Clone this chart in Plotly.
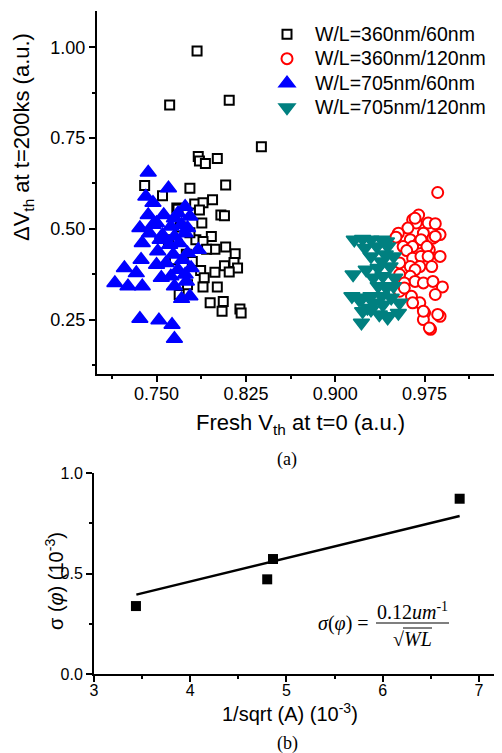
import plotly.graph_objects as go

# ---------------- data: panel (a) ----------------
sq_x = [0.784, 0.761, 0.811, 0.838, 0.785, 0.786, 0.791, 0.801, 0.740, 0.778,
        0.808, 0.755, 0.767, 0.782, 0.789, 0.797, 0.786, 0.804, 0.807, 0.788,
        0.768, 0.796, 0.783, 0.789, 0.799, 0.808, 0.792, 0.816, 0.815, 0.807,
        0.818, 0.811, 0.799, 0.787, 0.790, 0.776, 0.789, 0.801, 0.795, 0.806,
        0.805, 0.820, 0.821, 0.769, 0.778, 0.770, 0.775, 0.765, 0.780, 0.760]
sq_y = [0.990, 0.841, 0.854, 0.726, 0.699, 0.687, 0.680, 0.694, 0.619, 0.612,
        0.621, 0.591, 0.557, 0.568, 0.572, 0.580, 0.552, 0.538, 0.536, 0.516,
        0.554, 0.479, 0.470, 0.465, 0.444, 0.450, 0.444, 0.431, 0.407, 0.398,
        0.392, 0.381, 0.380, 0.385, 0.365, 0.346, 0.340, 0.340, 0.296, 0.300,
        0.273, 0.279, 0.268, 0.319, 0.489, 0.505, 0.430, 0.415, 0.410, 0.470]

cir_x = [0.986, 0.970, 0.965, 0.968, 0.978, 0.984, 0.967, 0.961, 0.953, 0.951,
         0.974, 0.988, 0.982, 0.984, 0.963, 0.970, 0.972, 0.957, 0.965, 0.979,
         0.977, 0.960, 0.988, 0.965, 0.972, 0.978, 0.954, 0.963, 0.971, 0.981,
         0.967, 0.954, 0.963, 0.967, 0.974, 0.982, 0.990, 0.958, 0.954, 0.958,
         0.964, 0.971, 0.984, 0.965, 0.975, 0.974, 0.988, 0.980, 0.974, 0.986,
         0.979]
cir_y = [0.600, 0.538, 0.525, 0.516, 0.516, 0.514, 0.529, 0.502, 0.488, 0.477,
         0.488, 0.484, 0.474, 0.479, 0.470, 0.461, 0.470, 0.451, 0.451, 0.442,
         0.451, 0.440, 0.424, 0.419, 0.424, 0.424, 0.406, 0.396, 0.396, 0.396,
         0.387, 0.374, 0.369, 0.355, 0.351, 0.355, 0.340, 0.351, 0.328, 0.337,
         0.314, 0.296, 0.319, 0.296, 0.268, 0.250, 0.259, 0.223, 0.273, 0.264,
         0.227]

tri_x = [0.743, 0.760, 0.741, 0.747, 0.774, 0.743, 0.756, 0.765, 0.768, 0.778,
         0.736, 0.747, 0.750, 0.762, 0.771, 0.776, 0.744, 0.755, 0.765, 0.774,
         0.738, 0.753, 0.761, 0.769, 0.785, 0.776, 0.751, 0.764, 0.737, 0.750,
         0.758, 0.768, 0.772, 0.779, 0.723, 0.733, 0.715, 0.726, 0.738, 0.754,
         0.765, 0.775, 0.762, 0.774, 0.771, 0.778, 0.736, 0.752, 0.763, 0.765]
tri_y = [0.655, 0.612, 0.589, 0.572, 0.561, 0.538, 0.538, 0.529, 0.543, 0.534,
         0.502, 0.511, 0.516, 0.506, 0.511, 0.502, 0.488, 0.483, 0.479, 0.488,
         0.461, 0.470, 0.456, 0.461, 0.442, 0.433, 0.438, 0.429, 0.415, 0.401,
         0.406, 0.387, 0.415, 0.392, 0.392, 0.378, 0.351, 0.342, 0.342, 0.365,
         0.342, 0.355, 0.369, 0.374, 0.307, 0.314, 0.252, 0.248, 0.236, 0.197]

inv_x = [0.916, 0.923, 0.930, 0.939, 0.943, 0.925, 0.935, 0.944, 0.930, 0.942,
         0.949, 0.939, 0.915, 0.926, 0.936, 0.946, 0.932, 0.940, 0.950, 0.936,
         0.943, 0.949, 0.914, 0.923, 0.920, 0.930, 0.939, 0.947, 0.954, 0.932,
         0.940, 0.927, 0.923, 0.930, 0.937, 0.944, 0.953, 0.944, 0.922]
inv_y = [0.470, 0.472, 0.470, 0.470, 0.465, 0.447, 0.451, 0.451, 0.424, 0.429,
         0.424, 0.410, 0.374, 0.387, 0.392, 0.396, 0.365, 0.369, 0.365, 0.342,
         0.337, 0.342, 0.314, 0.310, 0.305, 0.314, 0.314, 0.310, 0.296, 0.296,
         0.291, 0.282, 0.273, 0.277, 0.264, 0.259, 0.268, 0.255, 0.241]

series_names = ["W/L=360nm/60nm", "W/L=360nm/120nm", "W/L=705nm/60nm", "W/L=705nm/120nm"]

# ---------------- data: panel (b) ----------------
b_x = [3.436, 4.80, 4.86, 6.80]
b_y = [0.338, 0.471, 0.572, 0.872]
fit_x = [3.44, 6.80]
fit_y = [0.395, 0.786]

# page has an 8px body margin; figure sized to fill the rest of the window
OFF = 8
W, H = 494, 745
SANS = "Liberation Sans, Arial, sans-serif"
SERIF = "Liberation Serif, Times New Roman, serif"


def fx(p):
    return (p - OFF) / W


def fy(p):
    return 1 - (p - OFF) / H


def leg(t):
    return '<span style="font-size:19.5px">' + t + '</span>'


fig = go.Figure()
fig.add_trace(go.Scatter(x=sq_x, y=sq_y, mode="markers", name=leg(series_names[0]),
                         marker=dict(symbol="square", size=9, color="white",
                                     line=dict(color="black", width=2)),
                         xaxis="x", yaxis="y"))
fig.add_trace(go.Scatter(x=cir_x, y=cir_y, mode="markers", name=leg(series_names[1]),
                         marker=dict(symbol="circle", size=11, color="white",
                                     line=dict(color="#ff0000", width=2)),
                         xaxis="x", yaxis="y"))
fig.add_trace(go.Scatter(x=tri_x, y=tri_y, mode="markers", name=leg(series_names[2]),
                         marker=dict(symbol="triangle-up", size=14, color="#0000ff",
                                     line=dict(color="#0000ff", width=1.5)),
                         xaxis="x", yaxis="y"))
fig.add_trace(go.Scatter(x=inv_x, y=inv_y, mode="markers", name=leg(series_names[3]),
                         marker=dict(symbol="triangle-down", size=14, color="#008080",
                                     line=dict(color="#008080", width=1.5)),
                         xaxis="x", yaxis="y"))
fig.add_trace(go.Scatter(x=fit_x, y=fit_y, mode="lines", showlegend=False,
                         line=dict(color="black", width=2.5),
                         xaxis="x2", yaxis="y2"))
fig.add_trace(go.Scatter(x=b_x, y=b_y, mode="markers", showlegend=False,
                         marker=dict(symbol="square", size=10, color="black"),
                         xaxis="x2", yaxis="y2"))

common = dict(showline=True, linecolor="black", linewidth=2, ticks="outside",
              ticklen=6, tickwidth=1.5, tickcolor="black", showgrid=False,
              zeroline=False, automargin=False)
minor_out = dict(ticks="outside", ticklen=3, tickwidth=1.5, tickcolor="black", showgrid=False)
top_common = dict(showline=True, linecolor="black", linewidth=2, ticks="inside",
                  ticklen=5, tickwidth=1.5, tickcolor="black", showgrid=False,
                  zeroline=False, showticklabels=False, automargin=False, side="top")

xr_a = [0.70, 1.04]
xr_b = [3.0, 7.24]

fig.update_layout(
    width=W, height=H,
    margin=dict(l=0, r=0, t=0, b=0),
    paper_bgcolor="white", plot_bgcolor="white",
    showlegend=True,
    legend=dict(x=fx(259), y=fy(17), xanchor="left", yanchor="top",
                font=dict(family=SANS, size=16.5, color="black"),
                bgcolor="rgba(0,0,0,0)", tracegroupgap=0, itemwidth=46),
    xaxis=dict(common, domain=[fx(97), 1.0], range=xr_a, anchor="y",
               tick0=0.75, dtick=0.075, tickformat=".3f", ticklabelstandoff=-4,
               tickfont=dict(family=SANS, size=18, color="black"),
               minor=dict(minor_out, tick0=0.75, dtick=0.0375)),
    yaxis=dict(common, domain=[fy(374), fy(11)], range=[0.1, 1.1], anchor="x",
               tick0=0.25, dtick=0.25, tickformat=".2f",
               tickfont=dict(family=SANS, size=18, color="black"),
               minor=dict(minor_out, tick0=0.25, dtick=0.125)),
    xaxis3=dict(top_common, overlaying="x", anchor="y", range=xr_a,
                tick0=0.7346, dtick=0.0341),
    xaxis2=dict(common, domain=[fx(94), 1.0], range=xr_b, anchor="y2",
                tick0=3, dtick=1, tickformat="d", ticklabelstandoff=-5,
                tickfont=dict(family=SANS, size=16, color="black"),
                minor=dict(minor_out, tick0=3, dtick=0.5)),
    yaxis2=dict(common, domain=[fy(674), fy(473)], range=[0, 1], anchor="x2",
                tick0=0, dtick=0.5, tickformat=".1f",
                tickfont=dict(family=SANS, size=16, color="black"),
                minor=dict(minor_out, tick0=0, dtick=0.25)),
    xaxis4=dict(top_common, overlaying="x2", anchor="y2", range=xr_b,
                tick0=3, dtick=0.5),
)

ann = [
    dict(text="ΔV<sub>th</sub> at t=200ks (a.u.)", x=fx(23), y=fy(137), textangle=-90,
         font=dict(family=SANS, size=22, color="black")),
    dict(text="Fresh V<sub>th</sub> at t=0 (a.u.)", x=fx(300), y=fy(424),
         font=dict(family=SANS, size=22, color="black")),
    dict(text="(a)", x=fx(287), y=fy(459), font=dict(family=SERIF, size=18, color="black")),
    dict(text="1/sqrt (A) (10<sup>-3</sup>)", x=fx(290), y=fy(712),
         font=dict(family=SANS, size=20, color="black")),
    dict(text="σ (<i>φ</i>) (10<sup>-3</sup>)", x=fx(54), y=fy(581), textangle=-90,
         font=dict(family=SANS, size=20, color="black")),
    dict(text="(b)", x=fx(287), y=fy(743), font=dict(family=SERIF, size=18, color="black")),
    dict(text="<i>σ</i>(<i>φ</i>) =", x=fx(343), y=fy(623),
         font=dict(family=SERIF, size=20, color="black")),
    dict(text="0.12<i>um</i><sup>-1</sup>", x=fx(412), y=fy(611),
         font=dict(family=SERIF, size=20, color="black")),
    dict(text="√<i>WL</i>", x=fx(412), y=fy(639),
         font=dict(family=SERIF, size=20, color="black")),
]
for a in ann:
    a.update(xref="paper", yref="paper", showarrow=False, xanchor="center", yanchor="middle")
fig.update_layout(annotations=ann)

fig.update_layout(shapes=[
    dict(type="line", xref="paper", yref="paper", x0=fx(376), x1=fx(449), y0=fy(623), y1=fy(623),
         line=dict(color="black", width=1.2)),
    dict(type="line", xref="paper", yref="paper", x0=fx(403), x1=fx(432), y0=fy(628), y1=fy(628),
         line=dict(color="black", width=1)),
])

fig.write_html("out.html")
